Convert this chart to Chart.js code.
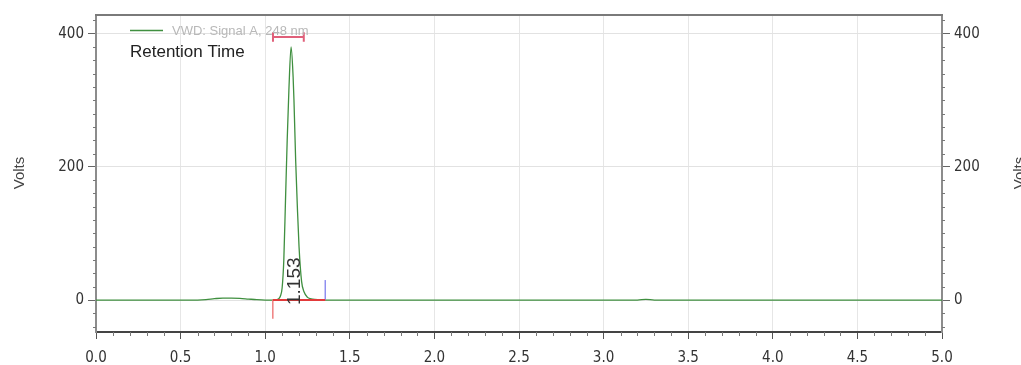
<!DOCTYPE html>
<html>
<head>
<meta charset="utf-8">
<title>Chromatogram</title>
<script src="https://cdn.jsdelivr.net/npm/chart.js@4.4.1/dist/chart.umd.min.js"></script>
<style>
  html, body { margin: 0; padding: 0; background: #fff; overflow: hidden; }
  #wrap { width: 1021px; height: 365px; position: relative; }
</style>
</head>
<body>
<div id="wrap"><canvas id="chrom" width="1021" height="365"></canvas></div>
<script>
// detector trace (minutes / volts)
const signalLabel = "VWD: Signal A, 248 nm";
const signalTime  = [0, 0.6, 0.65, 0.7, 0.75, 0.8, 0.85, 0.9, 0.95, 1.0, 1.06, 1.08, 1.09, 1.10, 1.11, 1.12, 1.13, 1.14, 1.153, 1.165, 1.17, 1.18, 1.19, 1.20, 1.215, 1.23, 1.25, 1.28, 1.32, 1.36, 3.2, 3.25, 3.3, 5.0];
const signalVolts = [0, 0, 0.5, 2, 3, 3, 2.5, 1.5, 0.5, 0, 0, 2, 6, 18, 60, 150, 240, 315, 380, 335, 300, 210, 140, 80, 28, 12, 4, 1.5, 0.5, 0, 0, 1, 0, 0];

// integration of the single peak
const peakTime = 1.153;
const baselineTime = [1.045, 1.355];
const baselineVolts = [0, 0];
const startMarkVolts = [0, -28];
const endMarkVolts = [0, 30];

// retention time window bracket
const windowTime = [1.046, 1.228];
const windowVolts = 395;
const windowCap = 7;

const xTicks = [0, 0.5, 1, 1.5, 2, 2.5, 3, 3.5, 4, 4.5, 5];
const yTicks = [0, 200, 400];

const pts = (xs, ys) => xs.map((x, i) => ({ x, y: ys[i] }));

const narrow = "'DejaVu Sans Condensed', 'Liberation Sans Narrow', 'Liberation Sans', sans-serif";
const sans = "'Liberation Sans', Arial, sans-serif";

const extras = {
  id: "extras",
  afterDraw(chart) {
    const { ctx, chartArea: a, scales } = chart;
    const x = scales.x, y = scales.y;
    ctx.save();

    // top frame line
    ctx.strokeStyle = "#7a7a7a";
    ctx.lineWidth = 2;
    ctx.beginPath();
    ctx.moveTo(a.left - 1, a.top);
    ctx.lineTo(a.right + 1, a.top);
    ctx.stroke();

    // minor ticks
    ctx.strokeStyle = "#777";
    ctx.lineWidth = 1;
    ctx.beginPath();
    for (let v = 0.1; v < 5; v += 0.1) {
      if (Math.abs(v * 2 - Math.round(v * 2)) < 1e-6) continue;
      const px = Math.round(x.getPixelForValue(v)) + 0.5;
      ctx.moveTo(px, a.bottom);
      ctx.lineTo(px, a.bottom + 4);
    }
    for (let v = -40; v < 428; v += 20) {
      if (v % 200 === 0) continue;
      const py = Math.round(y.getPixelForValue(v)) + 0.5;
      ctx.moveTo(a.left, py);
      ctx.lineTo(a.left - 3, py);
      ctx.moveTo(a.right, py);
      ctx.lineTo(a.right + 3, py);
    }
    ctx.stroke();

    // legend entry
    const ds = chart.data.datasets[0];
    ctx.strokeStyle = ds.borderColor;
    ctx.lineWidth = 1.5;
    ctx.beginPath();
    ctx.moveTo(130, 30.5);
    ctx.lineTo(163, 30.5);
    ctx.stroke();
    ctx.fillStyle = "#b8b8b8";
    ctx.font = "13px " + sans;
    ctx.textBaseline = "middle";
    ctx.fillText(ds.label, 172, 31);

    ctx.fillStyle = "#222";
    ctx.font = "17px " + sans;
    ctx.fillText("Retention Time", 130, 52);

    // peak retention label
    const lx = x.getPixelForValue(peakTime) + 9;
    const ly = y.getPixelForValue(0) + 5;
    ctx.save();
    ctx.translate(lx, ly);
    ctx.rotate(-Math.PI / 2);
    ctx.fillStyle = "#333";
    ctx.font = "19px " + sans;
    ctx.textBaseline = "alphabetic";
    ctx.fillText(peakTime.toFixed(3), 0, 0);
    ctx.restore();

    // axis titles
    ctx.fillStyle = "#444";
    ctx.font = "15px " + sans;
    ctx.textAlign = "center";
    ctx.textBaseline = "middle";
    for (const cx of [20, 1020]) {
      ctx.save();
      ctx.translate(cx, 173);
      ctx.rotate(-Math.PI / 2);
      ctx.fillText("Volts", 0, 0);
      ctx.restore();
    }
    ctx.restore();
  }
};

const yAxis = (position) => ({
  type: "linear",
  position,
  min: -48,
  max: 428,
  afterBuildTicks: s => { s.ticks = yTicks.map(value => ({ value })); },
  afterFit: s => { s.width = position === "left" ? 96 : 79; },
  grid: {
    drawOnChartArea: position === "left",
    color: "#e2e2e2",
    tickColor: "#666",
    tickLength: 8,
    lineWidth: 1
  },
  border: { display: true, color: "#8c8c8c", width: 2 },
  ticks: {
    color: "#333",
    padding: 4,
    font: { family: narrow, size: 15 },
    callback: v => String(v)
  }
});

new Chart(document.getElementById("chrom"), {
  type: "line",
  data: {
    datasets: [
      {
        label: signalLabel,
        data: pts(signalTime, signalVolts),
        borderColor: "#3f8f3f",
        borderWidth: 1.3,
        pointRadius: 0,
        cubicInterpolationMode: "monotone",
        order: 3
      },
      {
        label: "baseline",
        data: pts(baselineTime, baselineVolts),
        borderColor: "#e23a3a",
        borderWidth: 2,
        pointRadius: 0,
        order: 1
      },
      {
        label: "start",
        data: pts([baselineTime[0], baselineTime[0]], startMarkVolts),
        borderColor: "#f08080",
        borderWidth: 1.5,
        pointRadius: 0,
        order: 2
      },
      {
        label: "end",
        data: pts([baselineTime[1], baselineTime[1]], endMarkVolts),
        borderColor: "#8f8ff0",
        borderWidth: 1.5,
        pointRadius: 0,
        order: 2
      },
      {
        label: "window",
        data: [
          { x: windowTime[0], y: windowVolts - windowCap },
          { x: windowTime[0], y: windowVolts + windowCap },
          { x: windowTime[0], y: null },
          { x: windowTime[0], y: windowVolts },
          { x: windowTime[1], y: windowVolts },
          { x: windowTime[1], y: null },
          { x: windowTime[1], y: windowVolts - windowCap },
          { x: windowTime[1], y: windowVolts + windowCap }
        ],
        borderColor: "#e0607a",
        borderWidth: 2,
        pointRadius: 0,
        spanGaps: false,
        order: 2
      }
    ]
  },
  options: {
    responsive: false,
    animation: false,
    layout: { padding: { top: 15, left: 0, right: 0, bottom: 0 } },
    plugins: { legend: { display: false }, tooltip: { enabled: false } },
    scales: {
      x: {
        type: "linear",
        min: 0,
        max: 5,
        afterBuildTicks: s => { s.ticks = xTicks.map(value => ({ value })); },
        afterFit: s => { s.height = 33; },
        grid: { color: "#e6e6e6", tickColor: "#555", tickLength: 7, lineWidth: 1 },
        border: { display: true, color: "#444", width: 2 },
        ticks: {
          color: "#333",
          padding: 10,
          font: { family: narrow, size: 15 },
          maxRotation: 0,
          callback: v => Number(v).toFixed(1)
        }
      },
      y: yAxis("left"),
      y2: yAxis("right")
    }
  },
  plugins: [extras]
});
</script>
</body>
</html>
